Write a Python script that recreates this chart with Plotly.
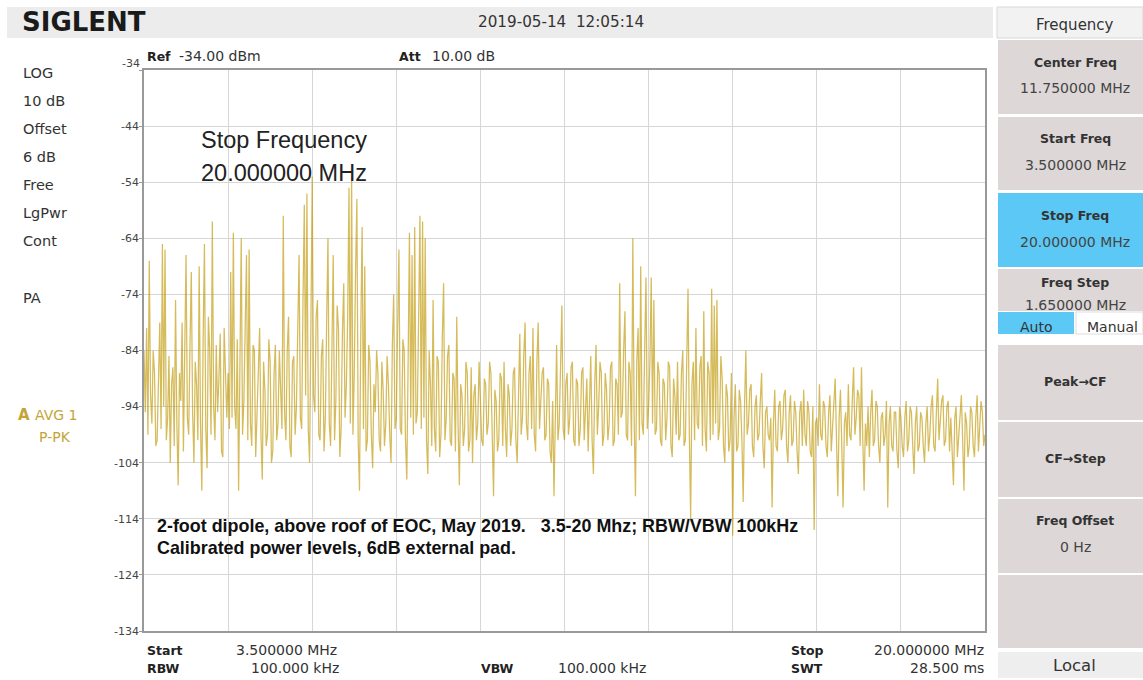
import numpy as np
import plotly.graph_objects as go

# ---- data ----
start_mhz = 3.5
stop_mhz = 20.0
ref_level = -34
bottom_level = -134
y_ticks = [-34, -44, -54, -64, -74, -84, -94, -104, -114, -124, -134]

# per-division sweep readings (dBm); "a" = main spikes, "b" = in-between samples
a1 = [-84, -80, -68, -97, -88, -100, -79, -65, -66, -96, -104, -87, -75, -108, -93, -102,
      -67, -99, -70, -104, -90, -69, -109, -65, -105, -84, -61, -100, -95, -81, -103, -91]
b1 = [-95, -99, -92, -84, -101, -86, -98, -94, -100, -85, -90, -101, -97, -88, -79, -84,
      -96, -83, -95, -86, -100, -97, -82, -98, -78, -99, -94, -83, -89, -102, -80, -96]
a2 = [-88, -70, -63, -98, -109, -64, -93, -67, -66, -101, -84, -96, -80, -107, -91, -99,
      -86, -102, -83, -97, -90, -60, -100, -78, -103, -85, -94, -67, -98, -58, -56, -104]
b2 = [-98, -96, -94, -82, -84, -99, -80, -100, -97, -83, -103, -85, -99, -86, -101, -82,
      -104, -88, -100, -84, -98, -95, -84, -101, -86, -99, -82, -96, -75, -92, -98, -80]
a3 = [-53, -95, -75, -100, -82, -96, -64, -101, -67, -93, -80, -98, -72, -90, -55, -53,
      -88, -57, -109, -62, -69, -100, -86, -105, -95, -88, -102, -91, -97, -90, -104, -74]
b3 = [-92, -78, -99, -85, -102, -79, -97, -84, -100, -76, -103, -81, -96, -78, -97, -99,
      -70, -100, -80, -98, -102, -83, -99, -90, -84, -100, -86, -101, -85, -99, -83, -98]
a4 = [-96, -66, -99, -84, -107, -63, -67, -62, -95, -60, -61, -64, -106, -90, -75, -102,
      -86, -99, -72, -96, -83, -101, -89, -78, -108, -92, -98, -88, -100, -104, -90, -97]
b4 = [-80, -98, -82, -100, -86, -96, -99, -97, -78, -98, -96, -100, -84, -101, -98, -85,
      -103, -82, -100, -85, -100, -88, -102, -97, -90, -101, -86, -102, -87, -92, -100, -86]
a5 = [-94, -101, -90, -97, -88, -110, -93, -100, -89, -86, -103, -92, -98, -87, -104, -81,
      -96, -79, -100, -85, -80, -102, -79, -94, -87, -99, -90, -104, -110, -83, -97, -76]
b5 = [-100, -89, -99, -86, -101, -91, -102, -88, -101, -98, -90, -101, -88, -100, -92, -99,
      -85, -97, -88, -98, -99, -86, -98, -88, -100, -89, -102, -93, -95, -100, -87, -98]
a6 = [-100, -88, -96, -86, -101, -90, -98, -87, -95, -102, -85, -106, -83, -94, -88, -99,
      -91, -97, -86, -100, -90, -72, -95, -77, -100, -88, -64, -110, -80, -69, -99, -71]
b6 = [-90, -99, -87, -100, -89, -101, -88, -100, -89, -91, -100, -90, -99, -86, -101, -88,
      -100, -87, -101, -89, -99, -96, -84, -99, -86, -101, -96, -86, -100, -97, -84, -98]
a7 = [-94, -71, -75, -98, -88, -101, -90, -96, -87, -103, -92, -86, -99, -84, -100, -73,
      -114, -86, -80, -98, -85, -77, -102, -88, -73, -76, -75, -98, -89, -104, -92, -100]
b7 = [-86, -97, -99, -86, -100, -89, -100, -86, -101, -89, -99, -100, -88, -101, -86, -99,
      -90, -100, -97, -87, -101, -98, -86, -100, -99, -97, -100, -85, -101, -90, -102, -88]
a8 = [-117, -90, -101, -93, -111, -84, -97, -90, -103, -92, -99, -88, -105, -94, -100, -112,
      -91, -102, -93, -98, -91, -104, -92, -100, -95, -106, -93, -91, -101, -95, -103, -116]
b8 = [-96, -102, -91, -100, -94, -99, -91, -101, -94, -100, -93, -101, -95, -99, -96, -97,
      -101, -94, -100, -92, -101, -95, -101, -93, -102, -95, -101, -99, -93, -102, -94, -97]
a9 = [-96, -90, -100, -94, -103, -92, -98, -89, -110, -91, -112, -95, -90, -100, -87, -96,
      -92, -87, -109, -101, -103, -91, -100, -94, -104, -95, -99, -112, -94, -102, -95, -105]
b9 = [-101, -99, -93, -101, -95, -102, -93, -100, -96, -101, -97, -101, -99, -93, -99, -91,
      -101, -100, -97, -94, -95, -101, -93, -101, -96, -101, -93, -97, -101, -95, -102, -94]
a10 = [-96, -103, -93, -100, -95, -106, -94, -101, -96, -104, -94, -99, -92, -102, -89, -97,
       -92, -100, -93, -96, -108, -94, -99, -92, -109, -97, -101, -95, -103, -92, -98, -95]
b10 = [-101, -96, -102, -94, -101, -97, -102, -95, -101, -97, -102, -94, -101, -95, -100, -93,
       -101, -94, -102, -101, -96, -103, -94, -100, -95, -103, -94, -101, -96, -102, -93, -101]
last_point = -99

trace_dbm = []
for a, b in [(a1, b1), (a2, b2), (a3, b3), (a4, b4), (a5, b5),
             (a6, b6), (a7, b7), (a8, b8), (a9, b9), (a10, b10)]:
    for va, vb in zip(a, b):
        trace_dbm += [va, vb]
trace_dbm.append(last_point)
freq_mhz = np.linspace(start_mhz, stop_mhz, len(trace_dbm))

left_labels = ["LOG", "10 dB", "Offset", "6 dB", "Free", "LgPwr", "Cont", "PA"]
left_label_y = [73, 101, 129, 157, 185, 213, 241, 298]

menu_items = [("Center Freq", "11.750000 MHz"), ("Start Freq", "3.500000 MHz"),
              ("Stop Freq", "20.000000 MHz")]

# ---- geometry helpers (screen grid 1143 x 680) ----
W, H = 1143, 680
def px(x): return x / W
def py(y): return 1 - y / H

fig = go.Figure()
fig.add_trace(go.Scatter(x=freq_mhz, y=trace_dbm, mode="lines",
                         line=dict(color="rgba(192,152,5,0.66)", width=1.25),
                         hoverinfo="skip"))

shapes = []
def rect(x0, y0, x1, y1, color, line=None):
    shapes.append(dict(type="rect", xref="paper", yref="paper",
                       x0=px(x0), x1=px(x1), y0=py(y1), y1=py(y0),
                       fillcolor=color, line=dict(width=0) if line is None else line,
                       layer="below"))

# header bar
rect(7, 7, 993, 38, "#ececec")
# right panel
rect(997, 7, 1143, 38, "#f2f2f2", dict(color="#d8d8d8", width=1))
rect(998, 40, 1143, 114, "#ddd7d7")
rect(998, 117, 1143, 190, "#ddd7d7")
rect(998, 193, 1143, 267, "#5cc8f5")
rect(998, 269, 1143, 311, "#ddd7d7")
rect(998, 312, 1074, 334, "#5cc8f5")
rect(1076, 312, 1143, 334, "#ffffff", dict(color="#dddddd", width=1))
rect(998, 345, 1143, 420, "#ddd7d7")
rect(998, 422, 1143, 497, "#ddd7d7")
rect(998, 499, 1143, 573, "#ddd7d7")
rect(998, 575, 1143, 648, "#ddd7d7")
rect(998, 652, 1143, 678, "#eeeeee")

ann = []
def text(x, y, s, size=14, color="#333333", bold=False, anchor="left",
         family="DejaVu Sans"):
    if bold:
        s = "<b>" + s + "</b>"
    ann.append(dict(x=px(x), y=py(y), xref="paper", yref="paper", text=s,
                    showarrow=False, xanchor=anchor, yanchor="middle",
                    font=dict(size=size, color=color, family=family)))

text(20, 22, "SIGLENT", size=26, color="#1a1a1a", bold=True)
text(561, 22, "2019-05-14\u00a0\u00a012:05:14", size=15.2, anchor="center")
text(1075, 25, "Frequency", size=15, anchor="center")
menu_y = [(62, 88), (139, 165), (215, 242)]
for (title, val), (ty, vy) in zip(menu_items, menu_y):
    text(1075, ty, title, size=12.5, color="#333333", bold=True, anchor="center")
    text(1075, vy, val, size=14, color="#444444", anchor="center")
text(1075, 282, "Freq Step", size=12.5, bold=True, anchor="center")
text(1075, 305, "1.650000 MHz", size=14, color="#444444", anchor="center")
text(1036, 327, "Auto", size=14, color="#333333", anchor="center")
text(1112, 327, "Manual", size=14, color="#333333", anchor="center")
text(1075, 381, "Peak\u2192CF", size=12.5, bold=True, anchor="center")
text(1075, 458, "CF\u2192Step", size=12.5, bold=True, anchor="center")
text(1075, 520, "Freq Offset", size=12.5, bold=True, anchor="center")
text(1075, 547, "0 Hz", size=14, color="#444444", anchor="center")
text(1074, 665, "Local", size=16.5, color="#333333", anchor="center")

for s, y in zip(left_labels, left_label_y):
    text(21, y, s, size=14.5, color="#333333")
text(16, 415, "A", size=15, color="#c4a437", bold=True)
text(33, 415, "AVG 1", size=14, color="#c4a437")
text(37, 437, "P-PK", size=14, color="#c4a437")

text(145, 56, "Ref", size=12.5, bold=True, color="#222222")
text(177, 56, "-34.00 dBm", size=14)
text(397, 56, "Att", size=12.5, bold=True, color="#222222")
text(430, 56, "10.00 dB", size=14)

text(145, 650, "Start", size=12.5, bold=True, color="#222222")
text(234, 650, "3.500000 MHz", size=14)
text(145, 668, "RBW", size=12.5, bold=True, color="#222222")
text(249, 668, "100.000 kHz", size=14)
text(479, 668, "VBW", size=12.5, bold=True, color="#222222")
text(556, 668, "100.000 kHz", size=14)
text(789, 650, "Stop", size=12.5, bold=True, color="#222222")
text(986, 650, "20.000000 MHz", size=14, anchor="right")
text(789, 668, "SWT", size=12.5, bold=True, color="#222222")
text(986, 668, "28.500 ms", size=14, anchor="right")

# top tick label sits just above the frame on the instrument screen
text(142, 63, str(y_ticks[0]), size=11, color="#444444", anchor="right")

text(199, 140, "Stop Frequency", size=23.5, color="#222222", family="Liberation Sans")
text(199, 173, "20.000000 MHz", size=23.5, color="#222222", family="Liberation Sans")
text(155, 526, "2-foot dipole, above roof of EOC, May 2019.\u00a0\u00a0\u00a03.5-20 Mhz; RBW/VBW 100kHz",
     size=17.9, color="#111111", bold=True, family="Liberation Sans")
text(155, 548, "Calibrated power levels, 6dB external pad.",
     size=17.9, color="#111111", bold=True, family="Liberation Sans")

fig.update_layout(
    autosize=True, margin=dict(l=0, r=0, t=0, b=0, pad=0),
    paper_bgcolor="white", plot_bgcolor="white", showlegend=False,
    shapes=shapes, annotations=ann,
    xaxis=dict(domain=[px(144), px(985)], range=[start_mhz, stop_mhz],
               tick0=start_mhz, dtick=(stop_mhz - start_mhz) / 10,
               showticklabels=False, showgrid=True, gridcolor="#d6d6d6", gridwidth=1,
               showline=True, linecolor="#999999", linewidth=1.5, mirror=True,
               zeroline=False, ticks="", automargin=False),
    yaxis=dict(domain=[py(631), py(70)], range=[bottom_level, ref_level],
               tickvals=y_ticks, ticktext=[""] + [str(v) for v in y_ticks[1:]],
               tickfont=dict(size=11, color="#444444", family="DejaVu Sans"),
               ticklabelstandoff=-2, automargin=False,
               showgrid=True, gridcolor="#d6d6d6", gridwidth=1,
               showline=True, linecolor="#999999", linewidth=1.5, mirror=True,
               zeroline=False, ticks="outside", ticklen=3, tickcolor="#999999"),
)

fig.write_html("out.html", default_width="100vw", default_height="100vh",
               config={"displayModeBar": False},
               post_script="document.body.style.margin='0px';"
                           "document.body.style.overflow='hidden';"
                           "window.dispatchEvent(new Event('resize'));")
